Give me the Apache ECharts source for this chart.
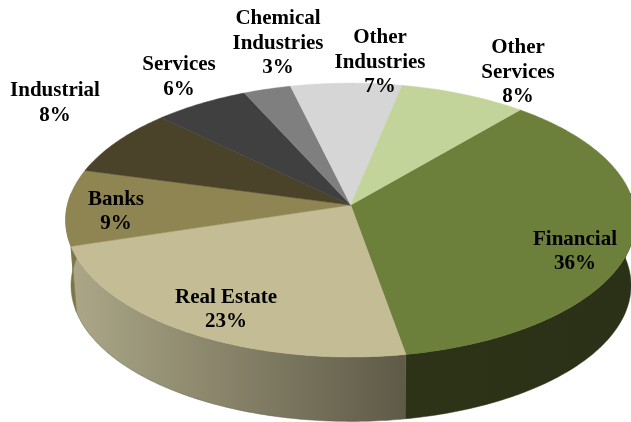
<!DOCTYPE html>
<html><head><meta charset="utf-8">
<style>html,body{margin:0;padding:0;background:#fff}#c{width:631px;height:422px}</style>
<script src="https://cdn.jsdelivr.net/npm/echarts@6/dist/echarts.min.js"></script>
</head><body><div id="c"></div>
<script>
// data (clockwise from the start angle)
const categories = ['Financial','Real Estate','Banks','Industrial','Services','Chemical\nIndustries','Other\nIndustries','Other\nServices'];
const shares = [36,23,9,8,6,3,7,8];
// styles
const topColors = ['#6c7f3b','#c4bc94','#8f8552','#4a4229','#404040','#7f7f7f','#d6d6d6','#c3d49b'];
const wallLeft = ['#2c3317','#aba787','#7d7545','#342e1c','#2d2d2d','#5a5a5a','#999999','#8a9a6c'];
const wallRight = ['#2b3116','#5f5a47','#7d7545','#342e1c','#2d2d2d','#5a5a5a','#999999','#8a9a6c'];
const labelPos = [[575,251.5],[226,309.5],[116,211.5],[55,103],[179,77],[278,43.5],[380,62.5],[518,72.5]];
// perspective disc
const START = 40.4, K = 0.11;
const WALL_FROM = 85, WALL_TO = 275;
const TOP = {ax:350.7, ay:205, sx:283.3, sy:135.3};
const BASE = {ax:351, ay:270.4, sx:278.3, sy:134.4};

function project(d, deg){
  const t = deg*Math.PI/180, X = Math.sin(t), Y = -Math.cos(t), w = 1-K*Y;
  return [d.ax+d.sx*X/w, d.ay+d.sy*Y/w];
}
const total = shares.reduce((a,b)=>a+b,0);
let acc = 0;
const rows = shares.map(v=>{const r=[v,acc];acc+=v;return r;});
function range(i){
  const a = START+rows[i][1]/total*360, b = a+rows[i][0]/total*360;
  return [a,b];
}
function arc(d,a,b){
  const n = Math.max(2,Math.ceil((b-a)/0.75)), pts=[];
  for(let i=0;i<=n;i++) pts.push(project(d,a+(b-a)*i/n));
  return pts;
}
const chart = echarts.init(document.getElementById('c'),null,{renderer:'canvas'});
chart.setOption({
  animation:false,
  series:[
    {type:'custom',coordinateSystem:'none',silent:true,data:rows,z:1,
     renderItem:(p,api)=>{
       const i=p.dataIndex;
       const [a0,b0]=range(i);
       const a=Math.max(a0,WALL_FROM), b=Math.min(b0,WALL_TO);
       if(b<=a) return null;
       const pts=arc(TOP,a,b).concat(arc(BASE,a,b).reverse());
       const grad=new echarts.graphic.LinearGradient(0,0,1,0,[
         {offset:0,color:wallLeft[i]},{offset:1,color:wallRight[i]}]);
       return {type:'polygon',shape:{points:pts},style:{fill:grad,stroke:wallRight[i],lineWidth:0.5}};
     }},
    {type:'custom',coordinateSystem:'none',silent:true,data:rows,z:2,
     renderItem:(p,api)=>{
       const [a,b]=range(p.dataIndex);
       const pts=[[TOP.ax,TOP.ay]].concat(arc(TOP,a,b));
       return {type:'polygon',shape:{points:pts},style:{fill:topColors[p.dataIndex],stroke:topColors[p.dataIndex],lineWidth:0.5}};
     }},
    {type:'custom',coordinateSystem:'none',silent:true,data:rows,z:3,
     renderItem:(p,api)=>{
       const i=p.dataIndex;
       return {type:'text',x:labelPos[i][0],y:labelPos[i][1],style:{
         text:categories[i]+'\n'+api.value(0)+'%',fill:'#000',
         fontFamily:'"Liberation Serif"',fontWeight:'bold',fontSize:21,lineHeight:24.5,
         align:'center',verticalAlign:'middle'}};
     }}
  ]
});
</script></body></html>
